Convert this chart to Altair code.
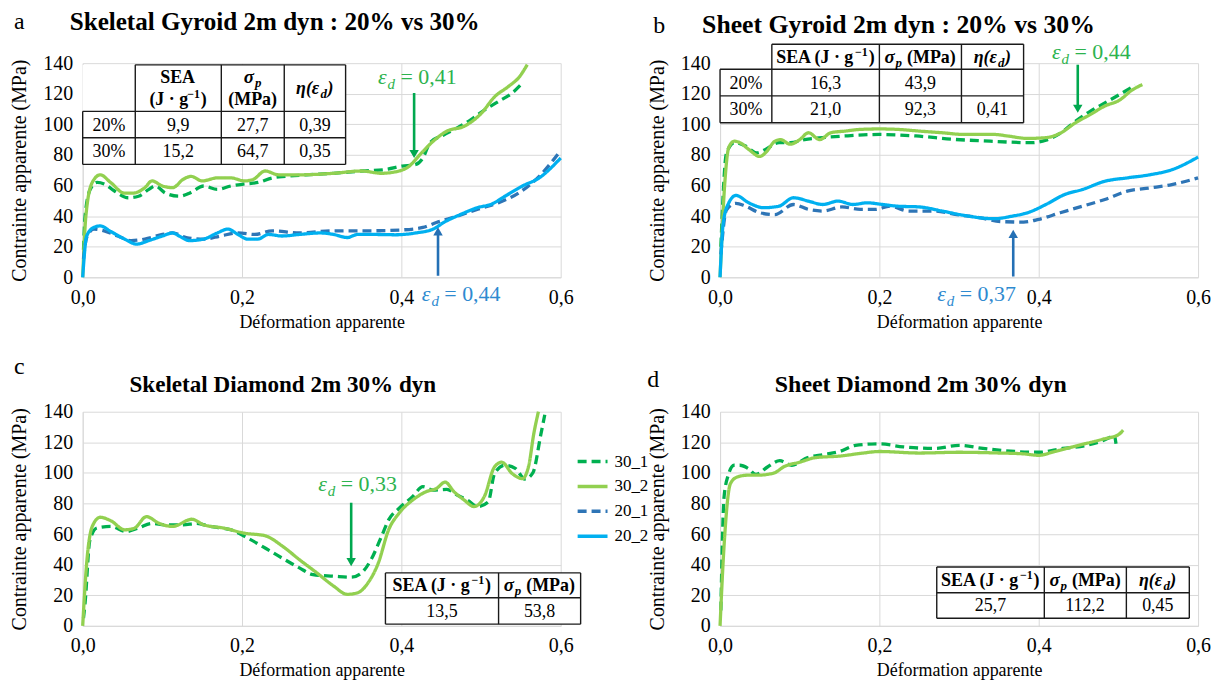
import altair as alt
import pandas as pd

# ---------------- data ----------------
SERIES = ["30_1", "30_2", "20_1", "20_2"]
SERIES_COLORS = ["#00B050", "#92D050", "#2E75B6", "#00B0F0"]
SERIES_DASH = [[9, 5], [1, 0], [9, 5], [1, 0]]

# Panel a : Skeletal Gyroid 2m dyn : 20% vs 30%
A_30_1_X = [0.001, 0.003, 0.0095, 0.018, 0.027, 0.04, 0.057, 0.07, 0.083, 0.091, 0.104, 0.121, 0.134, 0.152,
            0.169, 0.186, 0.203, 0.22, 0.238, 0.255, 0.281, 0.315, 0.35, 0.38, 0.401, 0.418, 0.427, 0.436,
            0.453, 0.47, 0.487, 0.505, 0.522, 0.539, 0.552]
A_30_1_Y = [18, 40, 57.5, 62, 61, 56.4, 52, 53, 57.5, 59.7, 55, 53, 55, 59.7, 57.5, 59.7, 61, 62, 65, 66,
            67, 68, 69.5, 70.5, 72.7, 73.8, 78, 88, 93, 97.7, 103, 109.6, 115, 120.5, 127]
A_30_2_X = [0, 0.004, 0.012, 0.022, 0.035, 0.0525, 0.063, 0.078, 0.087, 0.1, 0.113, 0.126, 0.136, 0.15,
            0.169, 0.186, 0.203, 0.214, 0.229, 0.246, 0.272, 0.315, 0.35, 0.375, 0.397, 0.41, 0.423, 0.44,
            0.457, 0.479, 0.5, 0.517, 0.535, 0.548, 0.558]
A_30_2_Y = [0, 40, 62, 67, 62, 55, 55, 58.6, 63, 59.7, 58.6, 64, 66, 63, 65, 65, 63, 64, 69.5, 67, 67, 68,
            69.5, 68, 69.5, 72.7, 80, 89, 95.5, 98.8, 107, 118, 125, 131, 139]
A_20_1_X = [0.001, 0.005, 0.014, 0.027, 0.044, 0.061, 0.078, 0.1, 0.113, 0.13, 0.152, 0.173, 0.195, 0.216,
            0.238, 0.272, 0.315, 0.358, 0.401, 0.427, 0.444, 0.47, 0.496, 0.522, 0.547, 0.573, 0.6]
A_20_1_Y = [12, 26, 31.5, 30.4, 27, 24, 25, 28, 29, 26, 25, 27, 29, 28, 30.4, 29, 30.4, 30.4, 31, 32.6,
            35.8, 40, 44.5, 48.8, 55, 66, 83]
A_20_2_X = [0, 0.005, 0.014, 0.022, 0.035, 0.0525, 0.068, 0.083, 0.1, 0.113, 0.121, 0.134, 0.152, 0.169,
            0.182, 0.195, 0.207, 0.22, 0.233, 0.25, 0.272, 0.298, 0.315, 0.332, 0.345, 0.367, 0.393, 0.418,
            0.44, 0.453, 0.474, 0.496, 0.513, 0.53, 0.552, 0.573, 0.6]
A_20_2_Y = [0, 27, 32.6, 33.6, 30, 25, 21.7, 24, 27, 29, 27, 24, 25, 29, 31.5, 28, 25, 25, 28, 27, 28, 29,
            28, 26, 28, 28, 27.8, 29, 31.5, 35.8, 41, 45.6, 47.8, 53, 59.7, 65, 78]
A_TABLE_ROWS = [["20%", "9,9", "27,7", "0,39"], ["30%", "15,2", "64,7", "0,35"]]
A_EPS_30 = "0,41"
A_EPS_20 = "0,44"

# Panel b : Sheet Gyroid 2m dyn : 20% vs 30%
B_30_1_X = [0.001, 0.008, 0.018, 0.032, 0.046, 0.057, 0.074, 0.088, 0.106, 0.129, 0.157, 0.2, 0.246, 0.293,
            0.339, 0.362, 0.39, 0.409, 0.428, 0.446, 0.465, 0.483, 0.502, 0.521]
B_30_1_Y = [20, 81, 88, 85.8, 81.4, 83.6, 88, 88, 90, 91.3, 92.4, 93.4, 92.4, 90.2, 89, 88.4, 88, 89.7,
            94.5, 102, 108.7, 114, 119.7, 125.5]
B_30_2_X = [0, 0.006, 0.011, 0.018, 0.025, 0.036, 0.05, 0.057, 0.069, 0.076, 0.088, 0.1, 0.111, 0.125,
            0.139, 0.157, 0.176, 0.2, 0.223, 0.25, 0.279, 0.306, 0.344, 0.362, 0.386, 0.409, 0.428, 0.446,
            0.465, 0.483, 0.502, 0.516, 0.53]
B_30_2_Y = [0, 62, 85, 89, 88, 83.6, 79, 81.4, 89, 90, 87, 90, 94.5, 90, 94.5, 95.6, 96.7, 97, 96.7, 95.6,
            94.5, 93.4, 93.4, 92.3, 90.8, 91.3, 94.5, 101, 106.5, 112, 116, 122, 126]
B_20_1_X = [0.001, 0.008, 0.02, 0.032, 0.05, 0.069, 0.092, 0.111, 0.129, 0.153, 0.176, 0.195, 0.213, 0.237,
            0.269, 0.297, 0.325, 0.353, 0.381, 0.4, 0.427, 0.455, 0.483, 0.511, 0.539, 0.567, 0.6]
B_20_1_Y = [15, 44, 48.3, 46.5, 42.2, 41, 47.6, 44.4, 43.3, 46, 44.4, 44.4, 46.5, 43.3, 43.3, 41, 39, 36.4,
            36.1, 37.9, 42.2, 46.5, 50.9, 56.3, 58.4, 60.6, 65]
B_20_2_X = [0, 0.004, 0.011, 0.02, 0.036, 0.055, 0.074, 0.092, 0.111, 0.129, 0.148, 0.167, 0.185, 0.204,
            0.223, 0.25, 0.279, 0.306, 0.344, 0.367, 0.386, 0.409, 0.432, 0.455, 0.483, 0.511, 0.539, 0.567, 0.6]
B_20_2_Y = [0, 35.6, 48.7, 53.5, 48.7, 45.5, 46.5, 52, 49.8, 47.6, 49.8, 47.6, 48.7, 47.6, 46.5, 46, 43.3,
            40.5, 38.3, 40, 42.2, 47.6, 54, 57.4, 62.8, 65, 67, 70.3, 78.6]
B_TABLE_ROWS = [["20%", "16,3", "43,9", ""], ["30%", "21,0", "92,3", "0,41"]]
B_EPS_30 = "0,44"
B_EPS_20 = "0,37"

# Panel c : Skeletal Diamond 2m 30% dyn
C_30_1_X = [0.001, 0.003, 0.009, 0.018, 0.035, 0.055, 0.07, 0.087, 0.104, 0.126, 0.143, 0.16, 0.186, 0.207,
            0.229, 0.25, 0.272, 0.289, 0.315, 0.337, 0.35, 0.362, 0.375, 0.384, 0.397, 0.414, 0.427, 0.44,
            0.457, 0.47, 0.483, 0.496, 0.509, 0.517, 0.53, 0.543, 0.555, 0.565, 0.575, 0.58]
C_30_1_Y = [5, 15, 56, 64, 65, 61.7, 64, 67, 66, 66, 67, 65, 62.8, 57.4, 50.9, 44.4, 37.9, 33.5, 32.5, 31.8,
            34.6, 43.3, 58.4, 69.3, 76.8, 84.4, 91, 88.7, 89.2, 85.5, 82.2, 78, 81, 99.6, 105, 103, 96, 100,
            125, 138]
C_30_2_X = [0, 0.005, 0.012, 0.022, 0.035, 0.053, 0.065, 0.08, 0.096, 0.113, 0.137, 0.152, 0.177, 0.203,
            0.229, 0.251, 0.272, 0.294, 0.315, 0.332, 0.345, 0.358, 0.371, 0.384, 0.397, 0.414, 0.431, 0.444,
            0.455, 0.466, 0.479, 0.491, 0.504, 0.517, 0.526, 0.539, 0.552, 0.56, 0.566, 0.572]
C_30_2_Y = [0, 41, 65, 71, 68.8, 62.8, 63.9, 71.4, 67, 65, 69.7, 66, 63.9, 60.6, 58.9, 52, 43.3, 34.6, 26,
            20.6, 21.6, 28, 41, 62.8, 73.6, 82.2, 87.7, 89.8, 94, 87.7, 82.2, 78, 84.4, 104, 107, 99.6, 96.3,
            105, 125, 140]
C_TABLE_ROWS = [["13,5", "53,8"]]
C_EPS_30 = "0,33"

# Panel d : Sheet Diamond 2m 30% dyn
D_30_1_X = [0.001, 0.005, 0.01, 0.0176, 0.025, 0.035, 0.045, 0.06, 0.075, 0.09, 0.11, 0.13, 0.15, 0.17,
            0.2, 0.23, 0.27, 0.3, 0.33, 0.37, 0.4, 0.43, 0.46, 0.48, 0.495, 0.497]
D_30_1_Y = [10, 84, 98, 105, 105, 103, 99, 104, 108, 105, 110, 112, 114, 118, 119, 117, 116, 118, 116, 114,
            113.5, 116, 118, 121, 124, 119]
D_30_2_X = [0, 0.005, 0.013, 0.022, 0.035, 0.047, 0.068, 0.08, 0.1, 0.12, 0.15, 0.18, 0.2, 0.25, 0.3, 0.35,
            0.38, 0.4, 0.42, 0.45, 0.48, 0.5, 0.506]
D_30_2_Y = [0, 52, 93, 97.4, 98.5, 98.5, 100, 104, 107, 110, 111, 113, 114, 113, 113.5, 113, 112.5, 111.5,
            114, 118, 122, 125, 128]
D_TABLE_ROWS = [["25,7", "112,2", "0,45"]]

TITLES = ["Skeletal Gyroid 2m dyn : 20% vs 30%", "Sheet Gyroid 2m dyn : 20% vs 30%",
          "Skeletal Diamond 2m 30% dyn", "Sheet Diamond 2m 30% dyn"]
LETTERS = ["a", "b", "c", "d"]

# ---------------- layout constants ----------------
W, H = 480, 215
XMAX, YMAX = 0.6, 140
PXX = W / XMAX
PXY = H / YMAX
FONT = "Liberation Serif, Times New Roman, DejaVu Serif, serif"
GREEN_TXT, GREEN_ARW = "#2DB34E", "#00A84F"
BLUE_TXT, BLUE_ARW = "#2E8AD0", "#2470B5"

XSCALE = alt.Scale(domain=[0, XMAX], nice=False, zero=False)
YSCALE = alt.Scale(domain=[0, YMAX], nice=False)
XAXIS = alt.Axis(title="Déformation apparente", values=[0, 0.2, 0.4, 0.6], labelFlush=False,
                 labelExpr="replace(format(datum.value, '.1f'), '.', ',')")
YAXIS = alt.Axis(title="Contrainte apparente (MPa)", values=[0, 20, 40, 60, 80, 100, 120, 140],
                 labelFlush=False)


def X(f="x"):
    return alt.X(f, type="quantitative", scale=XSCALE, axis=XAXIS)


def Y(f="y"):
    return alt.Y(f, type="quantitative", scale=YSCALE, axis=YAXIS)


CW = {' ': 0.25, ',': 0.25, '.': 0.25, '%': 0.833, '(': 0.333, ')': 0.333, '·': 0.25, '=': 0.564,
      '−': 0.564, ':': 0.278, 'S': 0.556, 'E': 0.611, 'A': 0.722, 'J': 0.389, 'M': 0.889, 'P': 0.556,
      'a': 0.444, 'g': 0.5, 'p': 0.5, 'd': 0.5, 'ε': 0.44, 'σ': 0.55, 'η': 0.5, 'l': 0.278, 'e': 0.444,
      't': 0.333, 'k': 0.5, 'i': 0.278, 'r': 0.39, 'o': 0.5, 'y': 0.5, 'n': 0.5, 'm': 0.78, 's': 0.389,
      'v': 0.5, 'h': 0.5, 'G': 0.72, 'D': 0.72, 'c': 0.444, 'b': 0.5}


def text_width(s, size, bold):
    return sum(CW.get(ch, 0.5) for ch in s) * size * (1.07 if bold else 1.0)


def rich(pieces, x0, y0, anchor="middle", color="black", dy_line=0.0):
    widths = [text_width(t, sz, "b" in st) for t, st, sz, dy in pieces]
    total = sum(widths)
    acc = -total / 2 if anchor == "middle" else 0.0
    rows = []
    for (t, st, sz, dy), w in zip(pieces, widths):
        lead = len(t) - len(t.lstrip(" "))
        off = lead * 0.25 * sz
        rows.append({"x": x0 + (acc + off) / PXX, "y": y0 - (dy + dy_line) / PXY, "t": t.strip(" "),
                     "size": sz, "style": st, "color": color})
        acc += w
    return rows


SEA_1 = [[("SEA", "b", 18, 0)], [("(J · g", "b", 18, 0), ("−1", "b", 12, -7), (")", "b", 18, 0)]]
SIG_1 = [[("σ", "bi", 19, 0), ("p", "bi", 13, 4)], [("(MPa)", "b", 18, 0)]]
SEA_H = [[("SEA (J · g", "b", 18, 0), ("−1", "b", 12, -7), (")", "b", 18, 0)]]
SIG_H = [[("σ", "bi", 19, 0), ("p", "bi", 13, 4), (" (MPa)", "b", 18, 0)]]
ETA_H = [[("η(ε", "bi", 18, 0), ("d", "bi", 13, 4), (")", "bi", 18, 0)]]


def plain(s):
    return [[(s, "r", 18, 0)]]


def eps(val):
    return [("ε", "i", 22, 0), ("d", "i", 15, 5), (" = " + val, "r", 22, 0)]


def table_parts(cols, rows, cells, blank_corner):
    rect = [{"x": cols[0], "x2": cols[-1], "y": rows[0], "y2": rows[-1]}]
    segs = []
    for i, ry in enumerate(rows):
        xs = cols[1] if (blank_corner and i == 0) else cols[0]
        segs.append({"x": xs, "x2": cols[-1], "y": ry, "y2": ry})
    for j, cx in enumerate(cols):
        ys = rows[1] if (blank_corner and j == 0) else rows[0]
        segs.append({"x": cx, "x2": cx, "y": ys, "y2": rows[-1]})
    texts = []
    for r, c, lines in cells:
        cx = (cols[c] + cols[c + 1]) / 2
        cy = (rows[r] + rows[r + 1]) / 2
        n = len(lines)
        for k, line in enumerate(lines):
            off = (k - (n - 1) / 2) * 22 + 6
            texts += rich(line, cx, cy, dy_line=off)
    return rect, segs, texts


def header_rows(head_cells, body_rows, first_body_col=0):
    cells = [(0, first_body_col + i, h) for i, h in enumerate(head_cells)]
    for r, row in enumerate(body_rows):
        for c, v in enumerate(row):
            if v:
                cells.append((r + 1, c, plain(v)))
    return cells


def px(dx, dy):
    """pixel offset from plot's top-left -> data coordinates"""
    return dx / PXX, YMAX - dy / PXY


def panel(curves, tables, texts, arrows, legend=None):
    rows = []
    for name, xs, ys in curves:
        for x, y in zip(xs, ys):
            rows.append({"x": x, "y": y, "series": name})
    df = pd.DataFrame(rows)
    color = alt.Color("series:N", scale=alt.Scale(domain=SERIES, range=SERIES_COLORS), legend=legend)
    dash = alt.StrokeDash("series:N", scale=alt.Scale(domain=SERIES, range=SERIES_DASH), legend=legend)
    layers = [alt.Chart(df).mark_line(strokeWidth=3.3, interpolate="monotone").encode(
        x=X(), y=Y(), color=color, strokeDash=dash)]
    all_texts = list(texts)
    for cols, rws, cells, blank in tables:
        rect, segs, ttx = table_parts(cols, rws, cells, blank)
        layers.append(alt.Chart(pd.DataFrame(rect)).mark_rect(fill="white", opacity=1).encode(
            x=X(), x2=alt.X2("x2"), y=Y(), y2=alt.Y2("y2")))
        layers.append(alt.Chart(pd.DataFrame(segs)).mark_rule(color="#1a1a1a", strokeWidth=1.4).encode(
            x=X(), x2=alt.X2("x2"), y=Y(), y2=alt.Y2("y2")))
        all_texts += ttx
    tdf = pd.DataFrame(all_texts)
    style_map = {"r": ("normal", "normal"), "b": ("bold", "normal"), "i": ("normal", "italic"),
                 "bi": ("bold", "italic")}
    for (st, col), sub in tdf.groupby(["style", "color"]):
        fw, fs = style_map[st]
        layers.append(alt.Chart(sub.reset_index(drop=True)).mark_text(
            align="left", baseline="alphabetic", font=FONT, fontWeight=fw, fontStyle=fs, color=col).encode(
            x=X(), y=Y(), text="t:N", size=alt.Size("size:Q", scale=None)))
    for ax, y_from, y_tip, col, up in arrows:
        head = 4.0 / PXY
        yend = y_tip - head if up else y_tip + head
        adf = pd.DataFrame([{"x": ax, "y": y_from, "y2": yend}])
        layers.append(alt.Chart(adf).mark_rule(color=col, strokeWidth=2.6).encode(
            x=X(), y=Y(), y2=alt.Y2("y2")))
        pdf = pd.DataFrame([{"x": ax, "y": yend}])
        layers.append(alt.Chart(pdf).mark_point(
            shape="triangle-up" if up else "triangle-down", filled=True, size=90, color=col, opacity=1).encode(
            x=X(), y=Y()))
    return alt.layer(*layers).properties(width=W, height=H)


def title_texts(letter, title, letter_pos, title_pos, tsize):
    lx, ly = px(*letter_pos)
    tx, ty = px(*title_pos)
    return (rich([(letter, "r", 24, 0)], lx, ly, anchor="start") +
            rich([(title, "b", tsize, 0)], tx, ty, anchor="start"))


legend = alt.Legend(orient="none", legendX=495, legendY=383, title=None, symbolType="stroke",
                    symbolSize=900, symbolStrokeWidth=3.5, labelFont=FONT, labelFontSize=17,
                    labelColor="black", rowPadding=-2, labelOffset=5, padding=0)

# panel a
a_table = ([0.0, 0.066, 0.174, 0.253, 0.33], [138.9, 108.5, 91.2, 73.8],
           header_rows([SEA_1, SIG_1, ETA_H], A_TABLE_ROWS, first_body_col=1), True)
a_texts = (title_texts(LETTERS[0], TITLES[0], (-69, -34), (-13, -33), 25.2) +
           rich(eps(A_EPS_30), 0.42, 126.5, color=GREEN_TXT) +
           rich(eps(A_EPS_20), 0.475, -15.5, color=BLUE_TXT))
pa = panel([("30_1", A_30_1_X, A_30_1_Y), ("30_2", A_30_2_X, A_30_2_Y),
            ("20_1", A_20_1_X, A_20_1_Y), ("20_2", A_20_2_X, A_20_2_Y)],
           [a_table], a_texts,
           [(0.416, 120.5, 78, GREEN_ARW, False), (0.446, 1, 32.6, BLUE_ARW, True)], legend=legend)

# panel b
b_table = ([0.0, 0.065, 0.2, 0.303, 0.381], [152.4, 136, 118.6, 101],
           header_rows([SEA_H, SIG_H, ETA_H], B_TABLE_ROWS, first_body_col=1), True)
b_texts = (title_texts(LETTERS[1], TITLES[1], (-67, -30), (-18, -30), 25.8) +
           rich(eps(B_EPS_30), 0.466, 142.5, color=GREEN_TXT) +
           rich(eps(B_EPS_20), 0.322, -15.5, color=BLUE_TXT))
pb = panel([("30_1", B_30_1_X, B_30_1_Y), ("30_2", B_30_2_X, B_30_2_Y),
            ("20_1", B_20_1_X, B_20_1_Y), ("20_2", B_20_2_X, B_20_2_Y)],
           [b_table], b_texts,
           [(0.449, 139, 107.6, GREEN_ARW, False), (0.368, 0.5, 31, BLUE_ARW, True)])

# panel c
c_table = ([0.38, 0.522, 0.625], [34.6, 18.4, 1.1],
           header_rows([SEA_H, SIG_H], C_TABLE_ROWS), False)
c_texts = (title_texts(LETTERS[2], TITLES[2], (-69, -38), (47, -20), 23.2) +
           rich(eps(C_EPS_30), 0.345, 88, color=GREEN_TXT))
pc = panel([("30_1", C_30_1_X, C_30_1_Y), ("30_2", C_30_2_X, C_30_2_Y)],
           [c_table], c_texts, [(0.337, 80.5, 39, GREEN_ARW, False)])

# panel d
d_table = ([0.272, 0.407, 0.51, 0.589], [38.5, 21.6, 5],
           header_rows([SEA_H, SIG_H, ETA_H], D_TABLE_ROWS), False)
d_texts = title_texts(LETTERS[3], TITLES[3], (-73, -25), (55, -20), 24)
pdd = panel([("30_1", D_30_1_X, D_30_1_Y), ("30_2", D_30_2_X, D_30_2_Y)],
            [d_table], d_texts, [])

chart = alt.concat(pa, pb, pc, pdd, columns=2, spacing={"row": 135, "column": 160}, bounds="flush").properties(
    padding={"left": 2, "top": 0, "right": 4, "bottom": 4}
).configure(font=FONT).configure_axis(
    labelFont=FONT, labelFontSize=20, labelColor="black", titleFont=FONT, titleFontSize=19,
    titleFontWeight="normal", titleColor="black", gridColor="#d9d9d9", gridWidth=1,
    domainColor="#d9d9d9", ticks=False, tickSize=0, labelPadding=10
).configure_axisX(labelPadding=10, titlePadding=6, titleFontSize=18).configure_axisY(
    titlePadding=13, titleFontSize=20).configure_view(stroke=None)

chart.save("out.html", embed_options={"renderer": "svg", "actions": False})
